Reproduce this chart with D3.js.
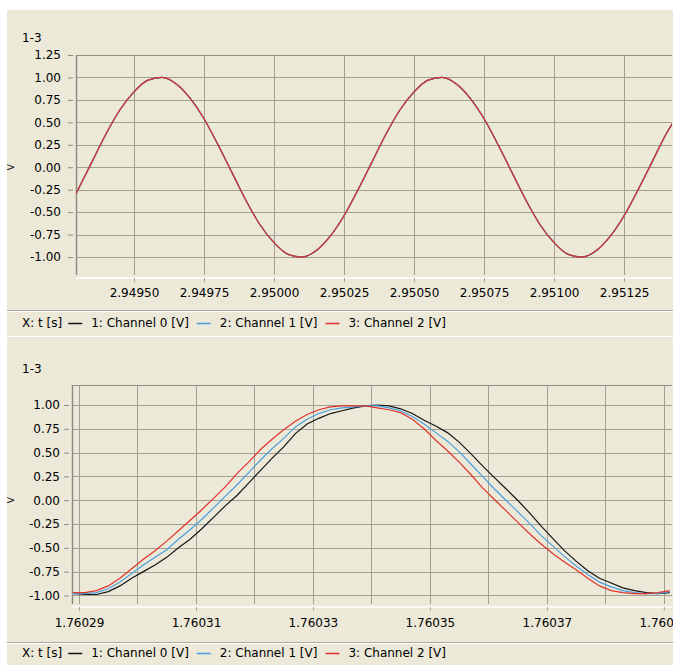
<!DOCTYPE html>
<html>
<head>
<meta charset="utf-8">
<script src="https://cdn.jsdelivr.net/npm/d3@7"></script>
<style>
body{margin:0;background:#fff;}
svg{display:block;}
</style>
</head>
<body>
<svg id="chart" width="673" height="667"></svg>
<script>
// upper panel: the three channels lie on top of each other
var topT = [2.94925, 2.94930, 2.94935, 2.94940, 2.94945, 2.94950, 2.94955, 2.94960, 2.94965, 2.94970, 2.94975,
  2.94980, 2.94985, 2.94990, 2.94995, 2.95000, 2.95005, 2.95010, 2.95015, 2.95020, 2.95025, 2.95030,
  2.95035, 2.95040, 2.95045, 2.95050, 2.95055, 2.95060, 2.95065, 2.95070, 2.95075, 2.95080, 2.95085,
  2.95090, 2.95095, 2.95100, 2.95105, 2.95110, 2.95115, 2.95120, 2.95125, 2.95130, 2.95135, 2.95140, 2.95145];
var topVolts = [-0.54, -0.25, 0.06, 0.37, 0.64, 0.84, 0.97, 1.00, 0.93, 0.77, 0.54,
  0.25, -0.06, -0.37, -0.64, -0.84, -0.97, -1.00, -0.93, -0.77, -0.54, -0.25,
  0.06, 0.37, 0.64, 0.84, 0.97, 1.00, 0.93, 0.77, 0.54, 0.25, -0.06,
  -0.37, -0.64, -0.84, -0.97, -1.00, -0.93, -0.77, -0.54, -0.25, 0.06, 0.37, 0.62];
var topXTicks = [2.94950, 2.94975, 2.95000, 2.95025, 2.95050, 2.95075, 2.95100, 2.95125];
var topYTicks = [-1.00, -0.75, -0.50, -0.25, 0.00, 0.25, 0.50, 0.75, 1.00, 1.25];

// lower panel
var botT = [1.760289, 1.760291, 1.760293, 1.760295, 1.760297, 1.760299, 1.760301, 1.760303, 1.760305, 1.760307,
  1.760309, 1.760311, 1.760313, 1.760315, 1.760317, 1.760319, 1.760321, 1.760323, 1.760325, 1.760327,
  1.760329, 1.760331, 1.760333, 1.760335, 1.760337, 1.760339, 1.760341, 1.760343, 1.760345, 1.760347,
  1.760349, 1.760351, 1.760353, 1.760355, 1.760357, 1.760359, 1.760361, 1.760363, 1.760365, 1.760367,
  1.760369, 1.760371, 1.760373, 1.760375, 1.760377, 1.760379, 1.760381, 1.760383, 1.760385, 1.760387,
  1.760389, 1.760391];
var botCh0 = [-0.98, -0.99, -0.99, -0.96, -0.90, -0.82, -0.75, -0.68, -0.60, -0.50,
  -0.41, -0.30, -0.18, -0.06, 0.05, 0.18, 0.31, 0.44, 0.56, 0.70,
  0.80, 0.86, 0.91, 0.94, 0.97, 0.99, 1.00, 0.99, 0.96, 0.91,
  0.84, 0.78, 0.71, 0.61, 0.49, 0.36, 0.24, 0.12, 0.00, -0.13,
  -0.27, -0.40, -0.53, -0.64, -0.74, -0.82, -0.87, -0.92, -0.95, -0.97,
  -0.98, -0.97];
var botCh1 = [-0.98, -0.98, -0.97, -0.93, -0.86, -0.77, -0.68, -0.60, -0.52, -0.41,
  -0.31, -0.20, -0.08, 0.04, 0.16, 0.29, 0.42, 0.54, 0.65, 0.77,
  0.85, 0.91, 0.95, 0.97, 0.98, 0.99, 0.99, 0.97, 0.94, 0.88,
  0.80, 0.71, 0.62, 0.51, 0.38, 0.25, 0.12, 0.00, -0.12, -0.24,
  -0.37, -0.48, -0.59, -0.69, -0.78, -0.86, -0.91, -0.95, -0.97, -0.98,
  -0.98, -0.96];
var botCh2 = [-0.97, -0.97, -0.95, -0.90, -0.82, -0.72, -0.62, -0.53, -0.43, -0.32,
  -0.21, -0.10, 0.02, 0.14, 0.28, 0.40, 0.53, 0.64, 0.74, 0.83,
  0.90, 0.95, 0.98, 0.99, 0.99, 0.99, 0.97, 0.95, 0.92, 0.85,
  0.75, 0.63, 0.52, 0.40, 0.27, 0.13, 0.01, -0.11, -0.23, -0.35,
  -0.46, -0.56, -0.65, -0.73, -0.82, -0.90, -0.95, -0.97, -0.98, -0.98,
  -0.97, -0.95];
var botXGrid = [1.76029, 1.76030, 1.76031, 1.76032, 1.76033, 1.76034, 1.76035, 1.76036, 1.76037, 1.76038, 1.76039];
var botXLabels = [1.76029, 1.76031, 1.76033, 1.76035, 1.76037, 1.76039];
var botYTicks = [-1.00, -0.75, -0.50, -0.25, 0.00, 0.25, 0.50, 0.75, 1.00];

var legendNames = ["1: Channel 0 [V]", "2: Channel 1 [V]", "3: Channel 2 [V]"];
var chColors = ["#151515", "#4a9ee0", "#e0332b"];

var FONT = "'DejaVu Sans', Verdana, sans-serif";
var GRID = "#a3a092";
var svg = d3.select("#chart");

svg.append("rect").attr("x", 7).attr("y", 10).attr("width", 666).attr("height", 655)
  .style("fill", "#ECE9D8");

function px(v){ return Math.round(v) + 0.5; }

function draw_panel(p){
  var x = d3.scaleLinear().domain(p.xDomain).range([p.left, p.right]);
  var y = d3.scaleLinear().domain(p.yDomain).range([p.bottom, p.top]);
  var g = svg.append("g");

  svg.append("clipPath").attr("id", "clip_" + p.name).append("rect")
    .attr("x", p.left).attr("y", p.top).attr("width", p.right - p.left).attr("height", p.bottom - p.top);

  g.selectAll("line.h").data(p.yTicks).enter().append("line").attr("class", "h")
    .attr("x1", p.left).attr("x2", p.right)
    .attr("y1", function(d){ return px(y(d)); }).attr("y2", function(d){ return px(y(d)); })
    .style("stroke", GRID).style("stroke-width", "1px");

  g.selectAll("line.v").data(p.xGrid).enter().append("line").attr("class", "v")
    .attr("y1", p.top).attr("y2", p.bottom)
    .attr("x1", function(d){ return px(x(d)); }).attr("x2", function(d){ return px(x(d)); })
    .style("stroke", GRID).style("stroke-width", "1px");

  // frame: top and left
  g.append("line").attr("x1", p.left).attr("x2", p.right).attr("y1", px(p.top)).attr("y2", px(p.top))
    .style("stroke", "#8f8d80").style("stroke-width", "1px");
  g.append("line").attr("x1", px(p.left)).attr("x2", px(p.left)).attr("y1", p.top).attr("y2", p.bottom)
    .style("stroke", "#8f8d80").style("stroke-width", "1.5px");

  var line = d3.line()
    .x(function(d){ return x(d[0]); })
    .y(function(d){ return y(d[1]); })
    .curve(p.curve);

  var lines = g.append("g").attr("clip-path", "url(#clip_" + p.name + ")");
  p.series.forEach(function(s, i){
    lines.append("path")
      .attr("d", line(d3.zip(p.t, s)))
      .style("fill", "none")
      .style("stroke", chColors[i])
      .style("stroke-width", "1.2px");
  });

  // y axis
  var ya = svg.append("g").attr("transform", "translate(" + (p.left - 3) + ",0)")
    .call(d3.axisLeft(y).tickValues(p.yTicks).tickSize(5).tickPadding(p.yPad)
      .tickFormat(function(d){ return d.toFixed(2); }));
  ya.select(".domain").remove();
  ya.attr("font-family", FONT).attr("font-size", 12);
  ya.selectAll("line").style("stroke", "#8f8d80");
  ya.selectAll("text").style("fill", "#000");

  // x axis, light base line as in the original
  var xa = svg.append("g").attr("transform", "translate(0," + p.axisY + ")")
    .call(d3.axisBottom(x).tickValues(p.xLabels).tickSize(4).tickSizeOuter(0).tickPadding(p.xPad)
      .tickFormat(function(d){ return d.toFixed(5); }));
  xa.attr("font-family", FONT).attr("font-size", 12);
  xa.select(".domain").style("stroke", "#fbfaf4").style("stroke-width", "2px")
    .attr("d", "M" + p.left + ",0H" + p.right);
  xa.selectAll("line").style("stroke", "#a8a597");
  xa.selectAll("text").style("fill", "#000");

  svg.append("text").attr("x", 22).attr("y", p.titleY).attr("dy", "0.35em")
    .attr("font-family", FONT).attr("font-size", 12).text("1-3");

  svg.append("text").attr("transform", "translate(11," + y(0) + ") rotate(-90)")
    .attr("text-anchor", "middle").attr("dy", "0.35em")
    .attr("font-family", FONT).attr("font-size", 9).text("V");
}

function draw_legend(lineY, textY){
  svg.append("line").attr("x1", 7).attr("x2", 673).attr("y1", lineY + 0.5).attr("y2", lineY + 0.5)
    .style("stroke", "#aca899");
  svg.append("line").attr("x1", 7).attr("x2", 673).attr("y1", lineY + 1.5).attr("y2", lineY + 1.5)
    .style("stroke", "#ffffff");

  var cx = 22;
  var t = svg.append("text").attr("x", cx).attr("y", textY).attr("dy", "0.35em")
    .attr("font-family", FONT).attr("font-size", 12).text("X: t [s]");
  cx += t.node().getComputedTextLength() + 6;
  legendNames.forEach(function(name, i){
    svg.append("line").attr("x1", cx).attr("x2", cx + 14).attr("y1", textY + 0.5).attr("y2", textY + 0.5)
      .style("stroke", chColors[i]).style("stroke-width", "1.5px");
    cx += 14 + 9;
    var tt = svg.append("text").attr("x", cx).attr("y", textY).attr("dy", "0.35em")
      .attr("font-family", FONT).attr("font-size", 12).text(name);
    cx += tt.node().getComputedTextLength() + 8;
  });
}

draw_panel({
  name: "top", t: topT, series: [topVolts, topVolts, topVolts],
  xDomain: [2.949293, 2.951421], yDomain: [-1.2, 1.25],
  left: 76, right: 672, top: 55, bottom: 275,
  xGrid: topXTicks, xLabels: topXTicks, yTicks: topYTicks,
  axisY: 278, xPad: 6, yPad: 7, titleY: 38, curve: d3.curveMonotoneX
});
draw_legend(310, 323);

draw_panel({
  name: "bot", t: botT, series: [botCh0, botCh1, botCh2],
  xDomain: [1.7602888, 1.7603914], yDomain: [-1.09, 1.21],
  left: 72, right: 672, top: 385, bottom: 604,
  xGrid: botXGrid, xLabels: botXLabels, yTicks: botYTicks,
  axisY: 607, xPad: 7, yPad: 4, titleY: 369, curve: d3.curveLinear
});
draw_legend(642, 653);

svg.append("line").attr("x1", 7).attr("x2", 673).attr("y1", 336.5).attr("y2", 336.5).style("stroke", "#ffffff");
</script>
</body>
</html>
